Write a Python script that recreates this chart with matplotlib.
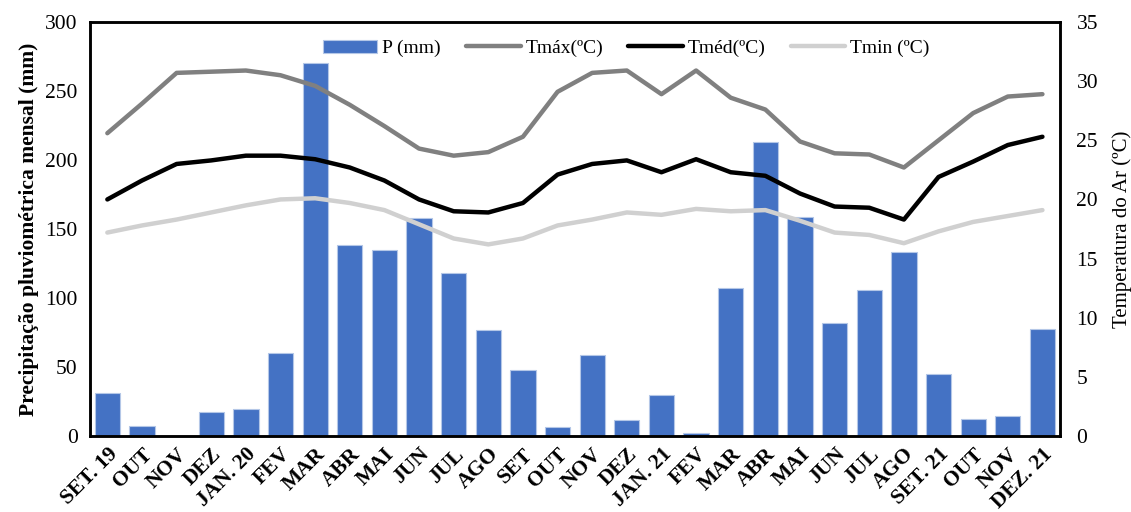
import matplotlib
matplotlib.use("Agg")
import matplotlib.pyplot as plt
import numpy as np

months = ["SET. 19", "OUT", "NOV", "DEZ", "JAN. 20", "FEV", "MAR", "ABR", "MAI", "JUN",
          "JUL", "AGO", "SET", "OUT", "NOV", "DEZ", "JAN. 21", "FEV", "MAR", "ABR",
          "MAI", "JUN", "JUL", "AGO", "SET. 21", "OUT", "NOV", "DEZ. 21"]
precip = [31, 7, 0, 17.5, 19.5, 60, 270, 138.5, 135, 158, 118, 77, 48, 6.5, 59, 11.5,
          30, 2, 107.5, 213, 158.5, 82, 106, 133.5, 45, 12.3, 14.5, 77.5]
tmax = [25.6, 28.1, 30.7, 30.8, 30.9, 30.5, 29.6, 28.0, 26.2, 24.3, 23.7, 24.0, 25.3,
        29.1, 30.7, 30.9, 28.9, 30.9, 28.6, 27.6, 24.9, 23.9, 23.8, 22.7, 25.0, 27.3,
        28.7, 28.9]
tmed = [20.0, 21.6, 23.0, 23.3, 23.7, 23.7, 23.4, 22.7, 21.6, 20.0, 19.0, 18.9, 19.7,
        22.1, 23.0, 23.3, 22.3, 23.4, 22.3, 22.0, 20.5, 19.4, 19.3, 18.3, 21.9, 23.2,
        24.6, 25.3]
tmin = [17.2, 17.8, 18.3, 18.9, 19.5, 20.0, 20.1, 19.7, 19.1, 17.9, 16.7, 16.2, 16.7,
        17.8, 18.3, 18.9, 18.7, 19.2, 19.0, 19.1, 18.2, 17.2, 17.0, 16.3, 17.3, 18.1,
        18.6, 19.1]

plt.rcParams['font.family'] = ['Liberation Serif', 'DejaVu Serif']

fig = plt.figure(figsize=(11.31, 5.12), dpi=100)
ax = fig.add_axes([0.0796, 0.1484, 0.8574, 0.8086])
x = np.arange(len(months))

bars = ax.bar(x, precip, width=0.73, color='#4472C4', edgecolor='#B4C7E7', linewidth=0.8,
              label='P (mm)', zorder=2)
ax.set_xlim(-0.5, len(months) - 0.5)
ax.set_ylim(0, 300)
ax.set_yticks(np.arange(0, 301, 50))
ax.set_xticks(x)
ax.set_xticklabels(months, rotation=45, ha='right', rotation_mode='anchor',
                   fontsize=15, fontweight='bold')
ax.tick_params(axis='both', length=0, labelsize=15.5)
ax.tick_params(axis='x', pad=6)
ax.tick_params(axis='y', pad=9)
ax.set_ylabel('Precipitação pluviométrica mensal (mm)', fontsize=15.5, fontweight='bold',
              labelpad=4)
for s in ax.spines.values():
    s.set_linewidth(1.8)

ax2 = ax.twinx()
ax2.set_ylim(0, 35)
ax2.set_yticks(np.arange(0, 36, 5))
ax2.tick_params(axis='y', length=0, labelsize=15.5, pad=12)
l1, = ax2.plot(x, tmax, color='#808080', lw=3.2, label='Tmáx(ºC)', solid_capstyle='round')
l2, = ax2.plot(x, tmed, color='#000000', lw=3.2, label='Tméd(ºC)', solid_capstyle='round')
l3, = ax2.plot(x, tmin, color='#D0D0D0', lw=3.2, label='Tmin (ºC)', solid_capstyle='round')
ax2.set_ylabel('Temperatura do Ar (ºC)', fontsize=15, labelpad=10)
for s in ax2.spines.values():
    s.set_linewidth(1.8)

leg = ax2.legend([bars, l1, l2, l3], ['P (mm)', 'Tmáx(ºC)', 'Tméd(ºC)', 'Tmin (ºC)'],
                 loc='upper center', bbox_to_anchor=(0.553, 1.0), ncol=4, frameon=False,
                 fontsize=14, handlelength=2.8, columnspacing=1.3, handletextpad=0.25,
                 borderaxespad=0.5)

fig.savefig('out.png', dpi=100)
